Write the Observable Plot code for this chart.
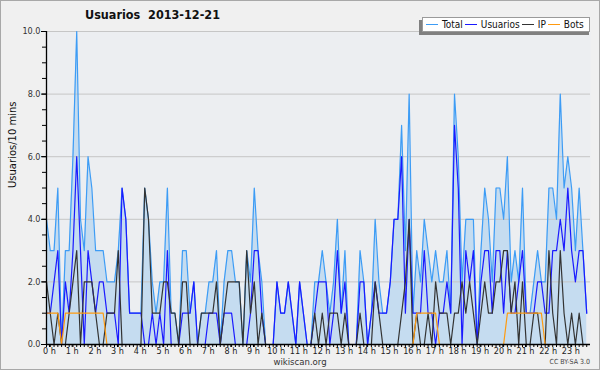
<!DOCTYPE html>
<html><head><meta charset="utf-8">
<script src="https://cdn.jsdelivr.net/npm/d3@7"></script>
<script src="https://cdn.jsdelivr.net/npm/@observablehq/plot@0.6"></script>
<style>
html,body{margin:0;padding:0;background:#fff}
#wrap{position:relative;width:600px;height:370px;overflow:hidden;background:#f0f0f0;font-family:"DejaVu Sans",sans-serif}
#wrap svg{position:absolute;left:0;top:0}
#border{position:absolute;left:0;top:0;width:598px;height:368px;border:1px solid #a8a8a8;pointer-events:none}
#title{position:absolute;left:85px;top:7px;font:bold 12.5px "DejaVu Sans Condensed","DejaVu Sans",sans-serif;color:#111;white-space:pre}
#legshadow{position:absolute;left:419px;top:20px;width:170px;height:15px;background:#808080}
#legend{position:absolute;left:422px;top:17px;width:168px;height:15px;background:#fff;border:1px solid #9a9a9a;box-sizing:border-box;display:flex;align-items:center;font:10px "DejaVu Sans Condensed","DejaVu Sans",sans-serif;color:#111;white-space:nowrap}
#legend .sw{display:inline-block;width:12px;height:0;border-top:1.3px solid;margin:0 4px 0 2px}
#legend .sw:first-child{margin-left:3px}
#footer{position:absolute;left:0;width:600px;top:356px;text-align:center;font:9.5px "DejaVu Sans Condensed","DejaVu Sans",sans-serif;color:#333}
#cc{position:absolute;right:10px;top:358px;font:7px "DejaVu Sans Condensed","DejaVu Sans",sans-serif;color:#444}
</style></head><body>
<div id="wrap">
  <div id="title"></div>
  <div id="legshadow"></div>
  <div id="legend"></div>
  <div id="footer">wikiscan.org</div>
  <div id="cc">CC BY-SA 3.0</div>
  <div id="border"></div>
</div>
<script>
// 10-minute slots, 0:00 .. 23:50
const slotCount = 144;
const titleText = "Usuarios  2013-12-21";
const yLabel = "Usuarios/10 mins";
const seriesNames = ["Total", "Usuarios", "IP", "Bots"];
const seriesColors = ["#3d9cf5", "#1a1aff", "#333333", "#ff9a0f"];
const hourTicks = d3.range(0, 24);
const yMajorTicks = [0, 2, 4, 6, 8, 10];

const total = [
4,3,3,5,0,3,3,6,10,4,3,6,5,3,3,3,2,2,2,3,5,4,1,1,1,1,5,4,2,1,
2,2,5,1,1,0,3,3,1,2,0,1,1,2,2,3,0,2,3,3,2,2,0,3,2,5,3,2,0,0,
0,2,1,1,2,1,0,2,1,0,0,2,2,3,2,1,2,4,1,3,0,0,0,3,2,0,1,4,2,1,
1,2,4,4,7,3,8,1,3,2,4,3,2,3,2,2,3,1,8,6,2,4,4,4,0,3,5,4,2,5,
5,4,6,2,3,2,5,1,1,2,3,2,2,5,5,4,8,5,6,5,3,5,3,1];
const usuarios = [
1,1,2,3,0,2,1,3,6,3,0,3,2,1,2,2,1,1,1,0,5,4,1,1,1,1,0,0,1,0,
1,0,3,0,0,0,1,1,1,2,0,0,0,1,1,1,0,1,1,1,0,0,0,0,1,3,3,1,0,0,
0,2,1,1,2,1,0,2,1,0,0,1,2,2,2,0,1,3,1,2,0,0,0,2,2,0,1,2,1,1,
1,2,4,4,6,1,4,1,1,1,3,1,1,0,1,1,2,1,7,5,0,3,2,3,0,2,3,3,1,3,
3,1,3,1,1,2,3,1,1,1,2,2,1,1,3,3,4,3,5,3,2,3,3,1];
const ip = [
2,1,0,1,0,0,1,2,3,0,2,2,2,1,0,0,1,1,1,3,0,0,0,0,0,0,5,4,1,1,
1,2,2,1,1,0,2,2,0,0,0,1,1,1,1,2,0,1,2,2,2,2,0,3,1,2,0,1,0,0,
0,0,0,0,0,0,0,0,0,0,0,1,0,1,0,1,1,1,0,1,0,0,0,1,0,0,0,2,1,0,
0,0,0,0,1,2,4,0,1,0,0,1,0,2,1,1,1,0,1,1,2,1,2,1,0,1,2,1,1,2,
2,3,3,1,2,0,2,0,0,1,1,0,0,3,1,0,3,1,0,1,0,1,0,0];
const bots = [
1,1,1,1,0,1,1,1,1,1,1,1,1,1,1,1,0,0,0,0,0,0,0,0,0,0,0,0,0,0,
0,0,0,0,0,0,0,0,0,0,0,0,0,0,0,0,0,0,0,0,0,0,0,0,0,0,0,0,0,0,
0,0,0,0,0,0,0,0,0,0,0,0,0,0,0,0,0,0,0,0,0,0,0,0,0,0,0,0,0,0,
0,0,0,0,0,0,0,0,1,1,1,1,1,1,0,0,0,0,0,0,0,0,0,0,0,0,0,0,0,0,
0,0,1,1,1,1,1,1,1,1,1,1,0,0];

const rows = d3.range(slotCount).map(i => ({
  t: i / 6, total: total[i], usuarios: usuarios[i], ip: ip[i], bots: bots[i]
}));
const keys = ["total", "usuarios", "ip", "bots"];

document.getElementById("title").textContent = titleText;
const leg = document.getElementById("legend");
seriesNames.forEach((n, k) => {
  const s = document.createElement("span"); s.className = "sw"; s.style.borderColor = seriesColors[k];
  const t = document.createElement("span"); t.textContent = n;
  leg.appendChild(s); leg.appendChild(t);
});

const cond = "DejaVu Sans Condensed, DejaVu Sans, sans-serif";
const chart = Plot.plot({
  width: 600, height: 370,
  marginLeft: 46, marginRight: 10, marginTop: 31, marginBottom: 26,
  x: {domain: [0, 24], axis: null},
  y: {domain: [0, 10], axis: null},
  style: {background: "transparent", fontFamily: cond, color: "#222"},
  marks: [
    Plot.frame({fill: "#eceef1", stroke: null}),
    Plot.areaY(rows, {x: "t", y: "total", fill: "#c5dcf0"}),
    Plot.ruleY(yMajorTicks.filter(d => d > 0), {stroke: "#c6c6c6", strokeWidth: 1}),
    ...keys.map((k, j) => Plot.lineY(rows, {x: "t", y: k, stroke: seriesColors[j], strokeWidth: 1.2})),
    Plot.axisY({ticks: yMajorTicks, tickFormat: d3.format(".1f"), tickSize: 5, tickPadding: 1, fontSize: 9, stroke: "#000", fill: "#333", label: null}),
    Plot.axisY({ticks: d3.range(0, 10.01, 0.5), tickFormat: () => "", tickSize: 4, stroke: "#000", label: null}),
    Plot.text([yLabel], {frameAnchor: "left", rotate: -90, dx: -34, fontSize: 10, fill: "#111", fontFamily: "DejaVu Sans, sans-serif"}),
    Plot.ruleX([0], {stroke: "#000", strokeWidth: 1.3}),
    Plot.ruleY([0], {stroke: "#000", strokeWidth: 1.3}),
    Plot.axisX({ticks: d3.range(0, 24, 1/6), tickFormat: () => "", tickSize: 3, stroke: "#000", label: null}),
    Plot.axisX({ticks: hourTicks, tickFormat: d => `${d} h`, tickSize: 3, tickPadding: 0, dx: 3, fontSize: 9, stroke: "#000", fill: "#222", label: null})
  ]
});
document.getElementById("wrap").insertBefore(chart, document.getElementById("title"));
</script>
</body></html>
